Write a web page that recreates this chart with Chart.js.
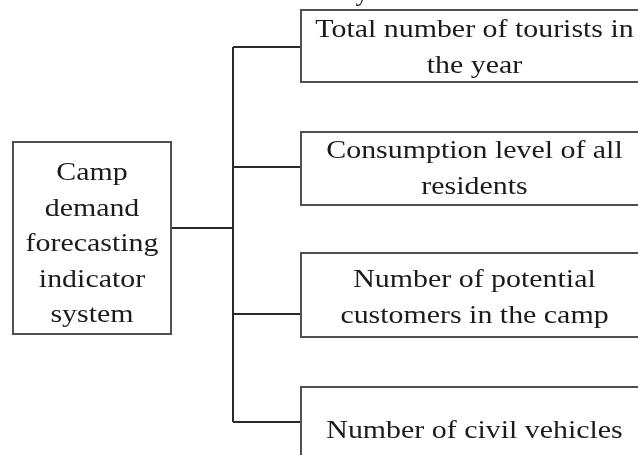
<!DOCTYPE html>
<html>
<head>
<meta charset="utf-8">
<script src="https://cdn.jsdelivr.net/npm/chart.js@4/dist/chart.umd.min.js"></script>
<style>
    html, body { margin: 0; padding: 0; background: #fff; }
    #wrap { width: 638px; height: 455px; position: relative; }
</style>
</head>
<body>
<div id="wrap"><canvas id="diagram"></canvas></div>
<script>
// tree diagram: one root node, four indicator nodes

// --- data ---
const rootLabel = ['Camp', 'demand', 'forecasting', 'indicator', 'system'];
const childLabels = [
    ['Total number of tourists in', 'the year'],
    ['Consumption level of all', 'residents'],
    ['Number of potential', 'customers in the camp'],
    ['Number of civil vehicles']
];

// --- layout (diagram units, mapped through the chart scales) ---
const rootBox = { x0: 13, x1: 171, y0: 142, y1: 334, firstBaseline: 180, lineHeight: 35.5, joinY: 228 };
const childBoxes = [
    { x0: 301, x1: 648, y0: 10, y1: 82, firstBaseline: 37, lineHeight: 36, joinY: 47 },
    { x0: 301, x1: 648, y0: 132, y1: 205, firstBaseline: 158, lineHeight: 36, joinY: 167 },
    { x0: 301, x1: 648, y0: 253, y1: 337, firstBaseline: 287, lineHeight: 36, joinY: 314 },
    { x0: 301, x1: 648, y0: 387, y1: 475, firstBaseline: 438, lineHeight: 36, joinY: 422 }
];
const trunkX = 233;

// connector segments built from the layout
function buildConnectors() {
    const segs = [];
    // root -> trunk
    segs.push([{ x: rootBox.x1, y: rootBox.joinY }, { x: trunkX, y: rootBox.joinY }]);
    // trunk
    const ys = childBoxes.map(b => b.joinY);
    segs.push([{ x: trunkX, y: Math.min(...ys) }, { x: trunkX, y: Math.max(...ys) }]);
    // branches
    childBoxes.forEach(b => {
        segs.push([{ x: trunkX, y: b.joinY }, { x: b.x0, y: b.joinY }]);
    });
    return segs.map(s => ({
        data: s,
        showLine: true,
        borderColor: '#2a2a2a',
        borderWidth: 2,
        pointRadius: 0,
        fill: false
    }));
}

const FONT = '26px "Liberation Serif", "Times New Roman", serif';
const STRETCH = 1.15;

function drawBox(chart, box, lines) {
    const ctx = chart.ctx;
    const xs = chart.scales.x;
    const ys = chart.scales.y;
    const left = xs.getPixelForValue(box.x0);
    const right = xs.getPixelForValue(box.x1);
    const top = ys.getPixelForValue(box.y0);
    const bottom = ys.getPixelForValue(box.y1);

    ctx.save();
    ctx.fillStyle = '#ffffff';
    ctx.fillRect(left, top, right - left, bottom - top);
    ctx.strokeStyle = '#505050';
    ctx.lineWidth = 2;
    ctx.strokeRect(left, top, right - left, bottom - top);

    // text, centred and a bit wider like the original
    const cx = (left + right) / 2;
    ctx.fillStyle = '#1b1b1b';
    ctx.font = FONT;
    ctx.textAlign = 'center';
    ctx.textBaseline = 'alphabetic';
    lines.forEach((line, i) => {
        const y = ys.getPixelForValue(box.firstBaseline + i * box.lineHeight);
        ctx.save();
        ctx.translate(cx, y);
        ctx.scale(STRETCH, 1);
        ctx.fillText(line, 0, 0);
        ctx.restore();
    });
    ctx.restore();
}

const boxesPlugin = {
    id: 'boxes',
    afterDatasetsDraw(chart) {
        drawBox(chart, rootBox, rootLabel);
        childBoxes.forEach((b, i) => drawBox(chart, b, childLabels[i]));

        // tail of a letter cut off at the top edge
        const ctx = chart.ctx;
        ctx.save();
        ctx.fillStyle = '#1b1b1b';
        ctx.font = FONT;
        ctx.textAlign = 'center';
        ctx.fillText('y', chart.scales.x.getPixelForValue(362), chart.scales.y.getPixelForValue(1));
        ctx.restore();
    }
};

new Chart(document.getElementById('diagram'), {
    type: 'scatter',
    data: { datasets: buildConnectors() },
    options: {
        responsive: true,
        maintainAspectRatio: false,
        animation: false,
        layout: { padding: 0 },
        plugins: {
            legend: { display: false },
            tooltip: { enabled: false }
        },
        scales: {
            x: { type: 'linear', min: 0, max: 638, display: false },
            y: { type: 'linear', min: 0, max: 455, reverse: true, display: false }
        }
    },
    plugins: [boxesPlugin]
});
</script>
</body>
</html>
